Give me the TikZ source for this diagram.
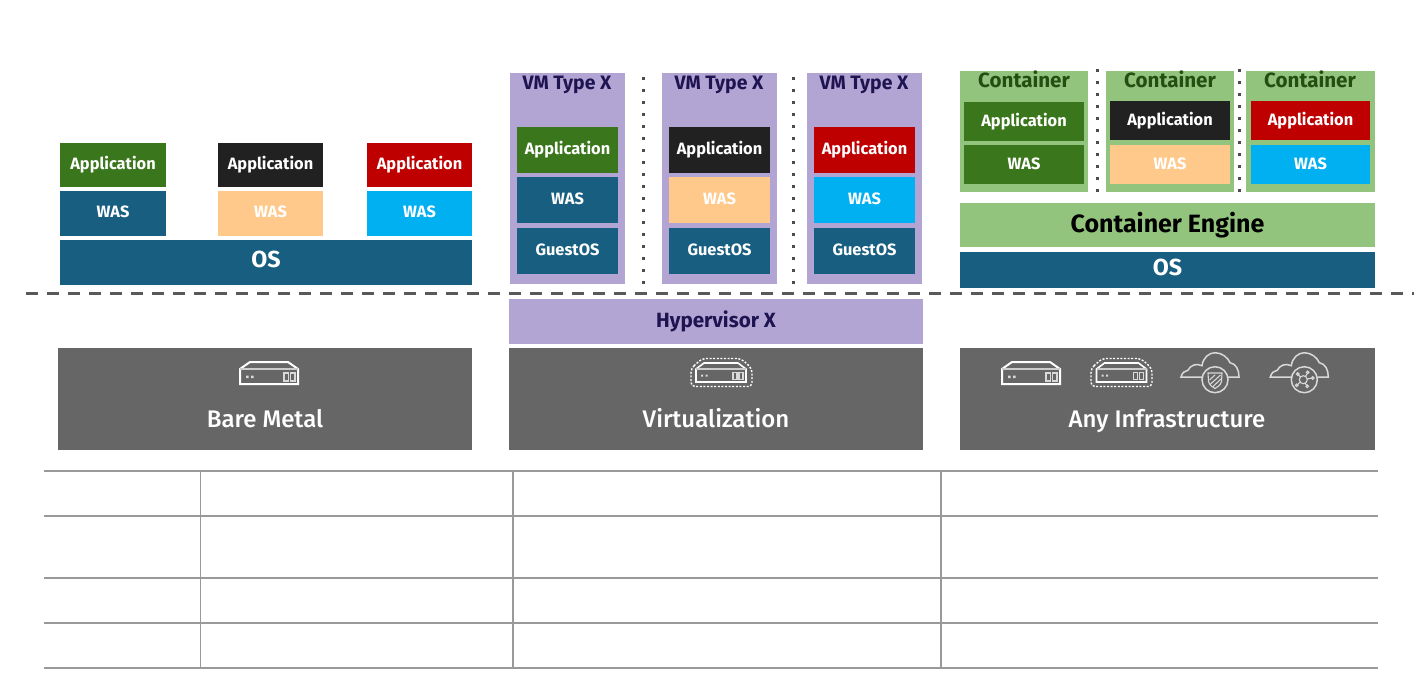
\documentclass[tikz,border=0pt]{standalone}
\usepackage{fontspec}
\setmainfont{Fira Sans}
\newfontfamily\medfont{Fira Sans Medium}
\definecolor{appgreen}{HTML}{3A761B}
\definecolor{appblack}{HTML}{212121}
\definecolor{appred}{HTML}{BF0000}
\definecolor{wasblue}{HTML}{175E80}
\definecolor{wassand}{HTML}{FFC98B}
\definecolor{wassky}{HTML}{00B0F0}
\definecolor{vmpurple}{HTML}{B3A5D3}
\definecolor{vmtext}{HTML}{1F1452}
\definecolor{ctgreen}{HTML}{93C47D}
\definecolor{cttext}{HTML}{234F12}
\definecolor{infra}{HTML}{666666}
\definecolor{rule}{HTML}{999999}
\newcommand{\bx}[6]{% name,x0,y0,x1,y1,style
  \node[#6,anchor=north west,minimum width={(#4-#2)*0.5pt},minimum height={(#5-#3)*0.5pt}] (#1) at (#2,#3) {};}
\newcommand{\tbx}[7]{% name,x0,y0,x1,y1,style,text
  \node[#6,anchor=north west,minimum width={(#4-#2)*0.5pt},minimum height={(#5-#3)*0.5pt}] (#1) at (#2,#3) {#7};}
\tikzset{
  plain/.style={inner sep=0pt,outer sep=0pt,draw=none},
  lbl/.style={plain,text=white,font=\bfseries\fontsize{8.2}{9}\selectfont,text height=5.6pt,text depth=1.5pt},
  ctrow/.style={text depth=0.6pt},
  biglbl/.style={font=\bfseries\fontsize{11.6}{13}\selectfont,text height=8pt,text depth=3pt},
  appg/.style={lbl,fill=appgreen},
  appk/.style={lbl,fill=appblack},
  appr/.style={lbl,fill=appred},
  wasb/.style={lbl,fill=wasblue},
  wass/.style={lbl,fill=wassand},
  wask/.style={lbl,fill=wassky},
  vmbox/.style={plain,fill=vmpurple},
  ctbox/.style={plain,fill=ctgreen},
  vmlbl/.style={plain,text=vmtext,font=\bfseries\fontsize{9.7}{11}\selectfont,text height=6.7pt,text depth=0pt},
  ctlbl/.style={plain,text=cttext,font=\bfseries\fontsize{10.3}{12}\selectfont,text height=7.1pt,text depth=0pt},
  infrabox/.style={plain,fill=infra},
  infralbl/.style={plain,text=white,font=\medfont\fontsize{12}{14}\selectfont,text height=8.3pt,text depth=0pt},
  dots/.style={draw=black!70,line width=1.5pt,dash pattern=on 1.5pt off 4.5pt},
  tablerule/.style={draw=rule,line width=0.7pt},
  icon/.style={draw=white,line width=1pt,line join=miter},
  thinicon/.style={draw=white!85!black,line width=0.55pt},
  serverpic/.pic={
    \draw[icon] (0,7) -- (10,0) -- (48,0) -- (58,7) -- (58,22) -- (0,22) -- cycle;
    \draw[icon,draw=white!80!black] (0,7) -- (58,7);
    \fill[white!85!black] (6,13.5) rectangle +(2.5,2.5) (11,13.5) rectangle +(2.5,2.5);
    \draw[thinicon] (44,11) rectangle (48.5,19) (50.5,11) rectangle (55,19);
  },
  smallserverpic/.pic={
    \draw[icon,line width=0.8pt] (0,6) -- (8,0) -- (42,0) -- (50,6) -- (50,19) -- (0,19) -- cycle;
    \draw[icon,line width=0.8pt,draw=white!80!black] (0,6) -- (50,6);
    \fill[white!85!black] (5,11.5) rectangle +(2.2,2.2) (9.5,11.5) rectangle +(2.2,2.2);
    \draw[thinicon] (37,9.5) rectangle (41,16.5) (43,9.5) rectangle (47,16.5);
  },
  dashoutline/.pic={
    \draw[draw=white,line width=0.7pt,dash pattern=on 1pt off 0.8pt,rounded corners=2pt] (0,10) -- (11,0) -- (50,0) -- (61,10) -- (61,28) -- (0,28) -- cycle;
  },
  cloudpic/.pic={
    \draw[thinicon,line width=0.75pt] (-13,-2.7) -- (-34,-2.7) .. controls (-33,-7) and (-30,-9) .. (-27,-9.5)
      .. controls (-25,-14) and (-19,-17) .. (-13,-14)
      .. controls (-12,-22) and (-6,-27) .. (0,-27) .. controls (7,-27) and (13,-22) .. (15,-17)
      .. controls (21,-16) and (24,-10) .. (24,-2.7) -- (13,-2.7);
    \draw[thinicon,line width=0.75pt] (0,0) circle[radius=13];
  }
}
\begin{document}
\begin{tikzpicture}[x=0.5pt,y=-0.5pt]
\useasboundingbox (0,0) rectangle (1414,676);
\fill[white] (0,0) rectangle (1414,676);
% bare metal
\tbx{a1}{60}{143}{166}{187}{appg}{Application}
\tbx{a2}{218}{143}{323}{187}{appk}{Application}
\tbx{a3}{367}{143}{472}{187}{appr}{Application}
\tbx{w1}{60}{191}{166}{236}{wasb}{WAS}
\tbx{w2}{218}{191}{323}{236}{wass}{WAS}
\tbx{w3}{367}{191}{472}{236}{wask}{WAS}
\tbx{os1}{60}{240}{472}{285}{wasb,biglbl}{OS}
% VMs
\bx{vm1}{510}{73}{625}{284}{vmbox}
\bx{vm2}{662}{73}{777}{284}{vmbox}
\bx{vm3}{807}{73}{922}{284}{vmbox}
\node[vmlbl] (vm1l) at (567,83) {VM Type X};
\node[vmlbl] (vm2l) at (719,83) {VM Type X};
\node[vmlbl] (vm3l) at (864,83) {VM Type X};
\tbx{va1}{517}{127}{618}{173}{appg}{Application}
\tbx{va2}{669}{127}{770}{173}{appk}{Application}
\tbx{va3}{814}{127}{915}{173}{appr}{Application}
\tbx{vw1}{517}{177}{618}{223}{wasb}{WAS}
\tbx{vw2}{669}{177}{770}{223}{wass}{WAS}
\tbx{vw3}{814}{177}{915}{223}{wask}{WAS}
\tbx{vg1}{517}{228}{618}{274}{wasb}{GuestOS}
\tbx{vg2}{669}{228}{770}{274}{wasb}{GuestOS}
\tbx{vg3}{814}{228}{915}{274}{wasb}{GuestOS}
\draw[dots] (643.5,77) -- (643.5,286);
\draw[dots] (793.5,77) -- (793.5,286);
\tbx{hyp}{509}{299}{923}{344}{vmbox,text=vmtext,font=\bfseries\fontsize{10.3}{12}\selectfont,text height=7.1pt,text depth=1pt}{Hypervisor X}
% containers
\bx{c1}{960}{71}{1088}{192}{ctbox}
\bx{c2}{1106}{71}{1234}{192}{ctbox}
\bx{c3}{1246}{71}{1375}{192}{ctbox}
\node[ctlbl] (c1l) at (1024,80) {Container};
\node[ctlbl] (c2l) at (1170,80) {Container};
\node[ctlbl] (c3l) at (1310,80) {Container};
\tbx{ca1}{964}{102}{1084}{141}{appg,ctrow}{Application}
\tbx{ca2}{1110}{101}{1230}{140}{appk,ctrow}{Application}
\tbx{ca3}{1251}{101}{1370}{140}{appr,ctrow}{Application}
\tbx{cw1}{964}{145}{1084}{184}{appg,ctrow}{WAS}
\tbx{cw2}{1110}{145}{1230}{184}{wass,ctrow}{WAS}
\tbx{cw3}{1251}{145}{1370}{184}{wask,ctrow}{WAS}
\draw[dots] (1097.5,69) -- (1097.5,193);
\draw[dots] (1239.5,69) -- (1239.5,193);
\tbx{eng}{960}{203}{1375}{247}{ctbox,text=black,font=\bfseries\fontsize{12.5}{14}\selectfont}{Container Engine}
\tbx{os2}{960}{252}{1375}{288}{wasb,biglbl}{OS}
% divider
\coordinate (divL) at (26,293.5);
\coordinate (divR) at (1414,293.5);
\draw[draw=black!65,line width=1.4pt,dash pattern=on 6pt off 4.5pt] (divL) -- (divR);
% infrastructure
\bx{i1}{58}{348}{472}{450}{infrabox}
\bx{i2}{509}{348}{923}{450}{infrabox}
\bx{i3}{960}{348}{1375}{450}{infrabox}
\node[infralbl] (i1l) at (265,419.5) {Bare Metal};
\node[infralbl] (i2l) at (716,419.5) {Virtualization};
\node[infralbl] (i3l) at (1167,419.5) {Any Infrastructure};
\pic at (240,362) {serverpic};
\pic at (696,363) {smallserverpic};
\pic at (691,358.5) {dashoutline};
\pic at (1002,362) {serverpic};
\pic at (1096.5,363) {smallserverpic};
\pic at (1091,358.5) {dashoutline};
\pic at (1215,379.7) {cloudpic};
\pic at (1304.3,379.7) {cloudpic};
% shield
\draw[thinicon] (1208,373) -- (1222,373) -- (1221.5,381.5) .. controls (1220.5,385) and (1218,387) .. (1215,388.5) .. controls (1212,387) and (1209.5,385) .. (1208.5,381.5) -- cycle;
\draw[thinicon] (1210,384.5) -- (1220.5,375) (1209.5,380) -- (1215,375) (1213,386.5) -- (1221,379);
% network
\draw[thinicon] (1303.3,379.7) circle[radius=4];
\draw[thinicon] (1300.5,377) -- (1298.5,375) (1305.5,376.2) -- (1307.2,373.5) (1307.2,379) -- (1311.3,378.2) (1300,382) -- (1297.8,384.5) (1305,383.2) -- (1306.5,385);
\foreach \q/\r in {1297.7/374,1307.7/372.3,1312.7/378,1296.7/385.3,1307.3/386.3}{\draw[thinicon] (\q,\r) circle[radius=1.3];}
% table
\foreach \yy in {471,516,578,623,668}{\draw[tablerule] (44,\yy) -- (1378,\yy);}
\foreach \xx in {200.5,513,941}{\draw[tablerule] (\xx,471) -- (\xx,668);}
\end{tikzpicture}
\end{document}
